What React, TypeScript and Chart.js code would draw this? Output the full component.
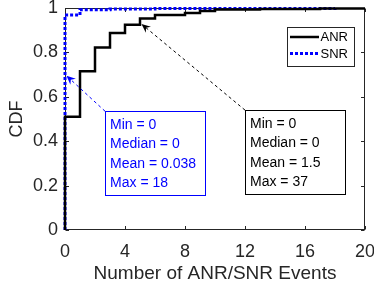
import React, { useEffect, useRef } from "react";
import { Chart, registerables } from "chart.js";

Chart.register(...registerables);

// ANR CDF steps (x = number of events, y = cumulative probability)
const anrX = [0, 0, 1, 2, 3, 4, 5, 6, 8, 9, 10, 13, 17, 20];
const anrY = [0, 0.51, 0.715, 0.822, 0.887, 0.924, 0.953, 0.968, 0.977, 0.986, 0.993, 0.996, 0.998, 0.998];

// SNR CDF steps
const snrX = [0, 0, 1, 3, 6, 18];
const snrY = [0, 0.968, 0.992, 0.996, 0.998, 1];

const xTicks = [0, 4, 8, 12, 16, 20];
const yTicks = [0, 0.2, 0.4, 0.6, 0.8, 1];

const seriesNames = ["ANR", "SNR"];
const snrStats = ["Min = 0", "Median = 0", "Mean = 0.038", "Max = 18"];
const anrStats = ["Min = 0", "Median = 0", "Mean = 1.5", "Max = 37"];

// annotation anchors in data coordinates: [boxX, boxY, arrowTipX, arrowTipY]
const snrNote = [2.67, 0.535, 0.1, 0.695];
const anrNote = [12, 0.54, 5.1, 0.928];

const AX = "#262626";
const BLUE = "#0000ff";
const FONT = "'Liberation Sans', Arial, Helvetica, sans-serif";

function toPts(xs: number[], ys: number[]) {
  return xs.map((x, i) => ({ x, y: ys[i] }));
}

function drawArrow(ctx: CanvasRenderingContext2D, x0: number, y0: number, x1: number, y1: number, color: string) {
  ctx.save();
  ctx.strokeStyle = color;
  ctx.fillStyle = color;
  ctx.lineWidth = 1;
  ctx.setLineDash([3, 3]);
  const ang = Math.atan2(y1 - y0, x1 - x0);
  const hl = 9;
  ctx.beginPath();
  ctx.moveTo(x0, y0);
  ctx.lineTo(x1 - Math.cos(ang) * hl * 0.6, y1 - Math.sin(ang) * hl * 0.6);
  ctx.stroke();
  ctx.setLineDash([]);
  const w = 4;
  const bx = x1 - Math.cos(ang) * hl;
  const by = y1 - Math.sin(ang) * hl;
  const mx = x1 - Math.cos(ang) * hl * 0.65;
  const my = y1 - Math.sin(ang) * hl * 0.65;
  ctx.beginPath();
  ctx.moveTo(x1, y1);
  ctx.lineTo(bx - Math.sin(ang) * w, by + Math.cos(ang) * w);
  ctx.lineTo(mx, my);
  ctx.lineTo(bx + Math.sin(ang) * w, by - Math.cos(ang) * w);
  ctx.closePath();
  ctx.fill();
  ctx.restore();
}

function drawBox(ctx: CanvasRenderingContext2D, x: number, y: number, lines: string[], color: string) {
  const w = 100;
  const h = 84;
  ctx.save();
  ctx.fillStyle = "#ffffff";
  ctx.fillRect(x, y, w, h);
  ctx.strokeStyle = color;
  ctx.lineWidth = 1;
  ctx.strokeRect(Math.round(x) + 0.5, Math.round(y) + 0.5, w, h);
  ctx.fillStyle = color;
  ctx.font = `14px ${FONT}`;
  ctx.textBaseline = "middle";
  ctx.textAlign = "left";
  lines.forEach((t, i) => {
    ctx.fillText(t, x + 5, y + 14 + i * 19.3);
  });
  ctx.restore();
}

const framePlugin = {
  id: "frame",
  beforeDatasetsDraw(chart: any) {
    const { ctx, chartArea: a, scales } = chart;
    ctx.save();
    ctx.strokeStyle = AX;
    ctx.lineWidth = 1;
    const L = Math.round(a.left) + 0.5;
    const R = Math.round(a.right) - 0.5;
    const T = Math.round(a.top) + 0.5;
    const B = Math.round(a.bottom) - 0.5;
    ctx.strokeRect(L, T, R - L, B - T);
    const tl = 3.5;
    ctx.beginPath();
    xTicks.forEach((v) => {
      const px = Math.round(scales.x.getPixelForValue(v)) + 0.5;
      ctx.moveTo(px, B);
      ctx.lineTo(px, B - tl);
      ctx.moveTo(px, T);
      ctx.lineTo(px, T + tl);
    });
    yTicks.forEach((v) => {
      const py = Math.round(scales.y.getPixelForValue(v)) + 0.5;
      ctx.moveTo(L, py);
      ctx.lineTo(L + tl, py);
      ctx.moveTo(R, py);
      ctx.lineTo(R - tl, py);
    });
    ctx.stroke();
    ctx.restore();
  },
  afterDatasetsDraw(chart: any) {
    const { ctx, scales } = chart;
    const sx = (v: number) => scales.x.getPixelForValue(v);
    const sy = (v: number) => scales.y.getPixelForValue(v);

    drawArrow(ctx, sx(snrNote[0]), sy(snrNote[1]), sx(snrNote[2]), sy(snrNote[3]), BLUE);
    drawBox(ctx, sx(snrNote[0]), sy(snrNote[1]), snrStats, BLUE);
    drawArrow(ctx, sx(anrNote[0]), sy(anrNote[1]), sx(anrNote[2]), sy(anrNote[3]), "#000000");
    drawBox(ctx, sx(anrNote[0]), sy(anrNote[1]), anrStats, "#000000");

    const a = chart.chartArea;
    const lx = a.right - 78;
    const ly = a.top + 19;
    const lw = 67;
    const lh = 39;
    ctx.save();
    ctx.fillStyle = "#ffffff";
    ctx.fillRect(lx, ly, lw, lh);
    ctx.strokeStyle = AX;
    ctx.lineWidth = 1;
    ctx.strokeRect(Math.round(lx) + 0.5, Math.round(ly) + 0.5, lw, lh);
    ctx.strokeStyle = "#000000";
    ctx.lineWidth = 2.5;
    ctx.beginPath();
    ctx.moveTo(lx + 3, ly + 10);
    ctx.lineTo(lx + 32, ly + 10);
    ctx.stroke();
    ctx.strokeStyle = BLUE;
    ctx.lineWidth = 3;
    ctx.setLineDash([3, 2]);
    ctx.beginPath();
    ctx.moveTo(lx + 3, ly + 26.5);
    ctx.lineTo(lx + 32, ly + 26.5);
    ctx.stroke();
    ctx.setLineDash([]);
    ctx.fillStyle = "#000000";
    ctx.font = `13px ${FONT}`;
    ctx.textBaseline = "middle";
    ctx.textAlign = "left";
    ctx.fillText(seriesNames[0], lx + 33.5, ly + 10.5);
    ctx.fillText(seriesNames[1], lx + 33.5, ly + 27);
    ctx.restore();
  },
};

export default function App() {
  const ref = useRef<HTMLCanvasElement | null>(null);

  useEffect(() => {
    document.body.style.margin = "0";
    const canvas = ref.current;
    if (!canvas) return;
    const chart = new Chart(canvas, {
      type: "line",
      data: {
        datasets: [
          {
            label: seriesNames[0],
            data: toPts(anrX, anrY),
            stepped: "before",
            borderColor: "#000000",
            borderWidth: 2.5,
            pointRadius: 0,
            fill: false,
            clip: false as any,
          },
          {
            label: seriesNames[1],
            data: toPts(snrX, snrY),
            stepped: "before",
            borderColor: BLUE,
            borderWidth: 3,
            borderDash: [3, 2],
            pointRadius: 0,
            fill: false,
            clip: false as any,
          },
        ],
      },
      options: {
        animation: false,
        responsive: true,
        maintainAspectRatio: false,
        layout: { padding: { top: 8, right: 9, left: 0, bottom: 0 } },
        plugins: {
          legend: { display: false },
          tooltip: { enabled: false },
        },
        scales: {
          x: {
            type: "linear",
            min: 0,
            max: 20,
            afterBuildTicks: (s: any) => {
              s.ticks = xTicks.map((v) => ({ value: v }));
            },
            afterFit: (s: any) => {
              s.height = 61;
              s.paddingLeft = 0;
              s.paddingRight = 0;
            },
            ticks: {
              color: AX,
              font: { family: FONT, size: 18 },
              padding: 11,
              maxRotation: 0,
              autoSkip: false,
            },
            grid: { display: false, drawTicks: false },
            border: { display: false },
            title: {
              display: true,
              text: "Number of ANR/SNR Events",
              color: AX,
              font: { family: FONT, size: 19 },
              padding: { top: 0, bottom: 5.5 },
            },
          },
          y: {
            type: "linear",
            min: 0,
            max: 1,
            afterBuildTicks: (s: any) => {
              s.ticks = yTicks.map((v) => ({ value: v }));
            },
            afterFit: (s: any) => {
              s.width = 65;
              s.paddingTop = 0;
              s.paddingBottom = 0;
            },
            ticks: {
              color: AX,
              font: { family: FONT, size: 18 },
              padding: 7,
              autoSkip: false,
              callback: (v: any) => String(Number(v)),
            },
            grid: { display: false, drawTicks: false },
            border: { display: false },
            title: {
              display: true,
              text: "CDF",
              color: AX,
              font: { family: FONT, size: 18 },
              padding: { top: 6, bottom: 0 },
            },
          },
        },
      },
      plugins: [framePlugin],
    });
    return () => chart.destroy();
  }, []);

  return (
    <div style={{ width: 374, height: 291, position: "relative" }}>
      <canvas ref={ref} />
    </div>
  );
}
